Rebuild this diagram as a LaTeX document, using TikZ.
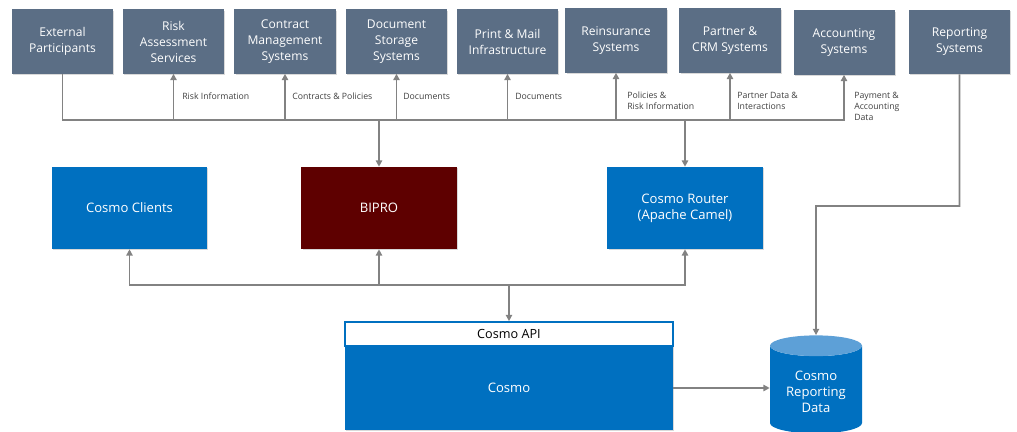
\documentclass[tikz,border=0pt]{standalone}
\usepackage{fontspec}
\setmainfont{Open Sans}
\usetikzlibrary{arrows.meta,shadows,shapes.geometric}

\definecolor{slate}{RGB}{91,110,133}
\definecolor{cosmoblue}{RGB}{0,112,192}
\definecolor{biprored}{RGB}{94,0,0}
\definecolor{dbtop}{RGB}{93,160,215}
\definecolor{linegrey}{RGB}{130,130,130}

\begin{document}
\begin{tikzpicture}[x=0.025cm, y=-0.025cm, >={Triangle[length=4.5pt,width=4.5pt]}]

    \tikzstyle{sys} = [fill=slate, rectangle, text=white, align=center, minimum width=2.525cm, minimum height=1.6cm, font=\fontsize{8.6}{11.4}\selectfont, drop shadow={shadow xshift=0.8pt, shadow yshift=-0.8pt, opacity=0.3}]
    \tikzstyle{core} = [fill=cosmoblue, rectangle, text=white, align=center, minimum width=3.875cm, minimum height=2.05cm, font=\fontsize{9.3}{11.4}\selectfont, drop shadow={shadow xshift=0.8pt, shadow yshift=-0.8pt, opacity=0.3}]
    \tikzstyle{api} = [draw=cosmoblue, line width=1.2pt, fill=white, rectangle, minimum width=8.2cm, minimum height=0.6cm, font=\fontsize{9}{11}\selectfont]
    \tikzstyle{db} = [cylinder, shape border rotate=90, aspect=0.3, cylinder uses custom fill, cylinder body fill=cosmoblue, cylinder end fill=dbtop, text=white, align=center, minimum width=2.3cm, minimum height=2.45cm, font=\fontsize{9.3}{11.6}\selectfont]
    \tikzstyle{lbl} = [anchor=west, align=left, inner sep=0pt, text=black!75, font=\fontsize{6.2}{7.8}\selectfont]
    \tikzstyle{link} = [draw=linegrey, line width=1.1pt]

    \useasboundingbox (0,0) rectangle (1017,432);

    \node[sys] (n1) at (62.5,41.5) {External\\Participants};
    \node[sys] (n2) at (173.5,41.5) {Risk\\Assessment\\Services};
    \node[sys] (n3) at (285,41.5) {Contract\\Management\\Systems};
    \node[sys] (n4) at (396.5,41.5) {Document\\Storage\\Systems};
    \node[sys] (n5) at (507.5,41.5) {Print \& Mail\\Infrastructure};
    \node[sys] (n6) at (616,40.5) {Reinsurance\\Systems};
    \node[sys] (n7) at (730,40.5) {Partner \&\\CRM Systems};
    \node[sys] (n8) at (844,42.5) {Accounting\\Systems};
    \node[sys] (n9) at (959.5,42) {Reporting\\Systems};

    \node[core] (c1) at (129.5,208) {Cosmo Clients};
    \node[core, fill=biprored] (c2) at (379,208) {BIPRO};
    \node[core] (c3) at (685,208) {Cosmo Router\\(Apache Camel)};

    \node[core, minimum width=8.2cm, minimum height=2.1cm] (cosmo) at (509,388) {Cosmo};
    \node[api] (api) at (509,334) {Cosmo API};
    \node[db] (db) at (816,392) {Cosmo\\Reporting\\Data};

    \node[lbl] (l2) at (182,96) {Risk Information};
    \node[lbl] (l3) at (292,96) {Contracts \& Policies};
    \node[lbl] (l4) at (403,96) {Documents};
    \node[lbl] (l5) at (515,96) {Documents};
    \node[lbl] (l6) at (627,100.5) {Policies \&\\Risk Information};
    \node[lbl] (l7) at (737,100.5) {Partner Data \&\\Interactions};
    \node[lbl] (l8) at (854,106) {Payment \&\\Accounting\\Data};

    \coordinate (top) at (379,120);
    \coordinate (low) at (509,285);
    \coordinate (rep) at (816,206);

    \draw[link] (n1.south) |- (top);
    \draw[link,->] (top) -| (n2.south);
    \draw[link,->] (top) -| (n3.south);
    \draw[link,->] (top) -| (n4.south);
    \draw[link,->] (top) -| (n5.south);
    \draw[link,->] (top) -| (n6.south);
    \draw[link,->] (top) -| (n7.south);
    \draw[link,->] (top) -| (n8.south);
    \draw[link,->] (top) -- (c2.north);
    \draw[link,->] (top) -| (c3.north);

    \draw[link,->] (low) -| (c1.south);
    \draw[link,->] (low) -| (c2.south);
    \draw[link,->] (low) -| (c3.south);
    \draw[link,->] (low) -- (api.north);

    \draw[link,->] (n9.south) |- (rep) -- (db.north);
    \draw[link,->] (cosmo.east) -- (cosmo.east -| db.west);
\end{tikzpicture}
\end{document}
